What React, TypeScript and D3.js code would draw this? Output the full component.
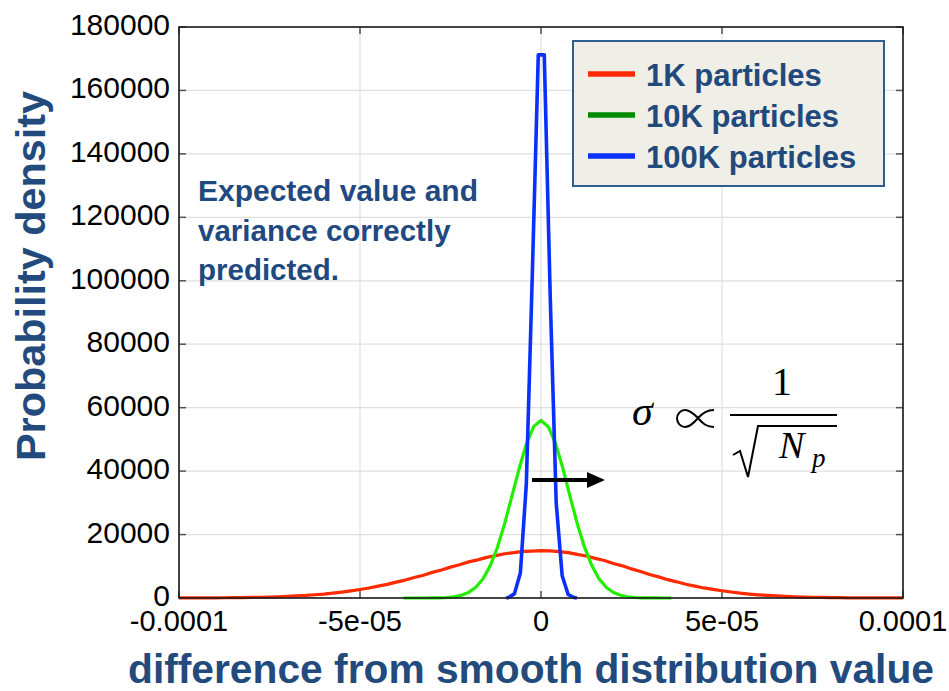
import React from "react";
import * as d3 from "d3";

// Density estimates of the difference from the smooth distribution value.
// x in units of 1e-6, y = probability density.
const red1K: [number, number][] = [
  [-100, 20], [-97.5, 25], [-95, 35], [-92.5, 45], [-90, 60], [-87.5, 80], [-85, 110],
  [-82.5, 140], [-80, 190], [-77.5, 240], [-75, 320], [-72.5, 400], [-70, 520], [-67.5, 660],
  [-65, 810], [-62.5, 1030], [-60, 1250], [-57.5, 1560], [-55, 1850], [-52.5, 2270],
  [-50, 2690], [-47.5, 3150], [-45, 3740], [-42.5, 4300], [-40, 4990], [-37.5, 5650],
  [-35, 6460], [-32.5, 7190], [-30, 8080], [-27.5, 8830], [-25, 9740], [-22.5, 10480],
  [-20, 11380], [-17.5, 12020], [-15, 12810], [-12.5, 13350], [-10, 13950], [-7.5, 14290],
  [-5, 14700], [-2.5, 14800], [0, 14920], [2.5, 14860], [5, 14640], [7.5, 14300],
  [10, 13760], [12.5, 13250], [15, 12480], [17.5, 11820], [20, 10900], [22.5, 10140],
  [25, 9170], [27.5, 8380], [30, 7420], [32.5, 6660], [35, 5780], [37.5, 5100], [40, 4330],
  [42.5, 3760], [45, 3170], [47.5, 2700], [50, 2290], [52.5, 1880], [55, 1530], [57.5, 1250],
  [60, 1010], [62.5, 810], [65, 640], [67.5, 500], [70, 390], [72.5, 300], [75, 230],
  [77.5, 175], [80, 130], [82.5, 95], [85, 70], [87.5, 52], [90, 38], [92.5, 28], [95, 20],
  [97.5, 15], [100, 10],
];

const green10K: [number, number][] = [
  [-38, 0], [-36, 2], [-34, 4], [-32, 8], [-30, 22], [-28, 60], [-26, 155], [-24, 370],
  [-22, 840], [-20, 1760], [-18, 3380], [-16, 6080], [-14, 10250], [-12, 16050],
  [-10, 23600], [-8, 32300], [-6, 40900], [-4, 48700], [-2, 54100], [0, 56000],
  [2, 54000], [4, 48800], [6, 41100], [8, 32100], [10, 23500], [12, 16100], [14, 10300],
  [16, 6100], [18, 3400], [20, 1740], [22, 860], [24, 380], [26, 160], [28, 65], [30, 25],
  [32, 9], [34, 3], [36, 0],
];

const blue100K: [number, number][] = [
  [-9.6, 0], [-9.0, 180], [-7.35, 1300], [-5.7, 7900], [-4.05, 36000], [-2.4, 102000],
  [-0.75, 171200], [0.9, 171200], [2.55, 95000], [4.2, 30000], [5.85, 7000], [7.5, 1100],
  [9.15, 150], [9.9, 0],
];

const seriesNames = ["1K particles", "10K particles", "100K particles"];
const seriesColors = ["#ff2a00", "#22ee00", "#0a30ff"];
const seriesWidths = [3.2, 3.2, 3.6];
const legendColors = ["#ff2a00", "#008a00", "#0a30ff"];

const xTicks = [-1e-4, -5e-5, 0, 5e-5, 1e-4];
const xTickLabels = ["-0.0001", "-5e-05", "0", "5e-05", "0.0001"];
const yTicks = [0, 20000, 40000, 60000, 80000, 100000, 120000, 140000, 160000, 180000];

const W = 949;
const H = 691;
const plot = { left: 179, right: 903, top: 27, bottom: 598 };
const titleColor = "#234a7d";

export default function App() {
  const x = d3.scaleLinear().domain([-1e-4, 1e-4]).range([plot.left, plot.right]);
  const y = d3.scaleLinear().domain([0, 180000]).range([plot.bottom, plot.top]);
  const line = d3
    .line<[number, number]>()
    .x((d) => x(d[0] * 1e-6))
    .y((d) => y(d[1]));

  const series = [red1K, green10K, blue100K];
  const tickLen = 7;

  return (
    <svg
      width={W}
      height={H}
      style={{ position: "absolute", left: 0, top: 0, background: "#fff" }}
      fontFamily="'Liberation Sans', Arial, sans-serif"
    >
      <rect x={0} y={0} width={W} height={H} fill="#fff" />
      {/* grid */}
      <g stroke="#e0e0e0" strokeWidth={1.2}>
        {xTicks.map((t) => (
          <line key={"gx" + t} x1={x(t)} x2={x(t)} y1={plot.top} y2={plot.bottom} />
        ))}
        {yTicks.map((t) => (
          <line key={"gy" + t} x1={plot.left} x2={plot.right} y1={y(t)} y2={y(t)} />
        ))}
      </g>
      {/* tick marks on all four sides, pointing inward */}
      <g stroke="#555" strokeWidth={1.5}>
        {xTicks.map((t) => (
          <g key={"tx" + t}>
            <line x1={x(t)} x2={x(t)} y1={plot.bottom} y2={plot.bottom - tickLen} />
            <line x1={x(t)} x2={x(t)} y1={plot.top} y2={plot.top + tickLen} />
          </g>
        ))}
        {yTicks.map((t) => (
          <g key={"ty" + t}>
            <line x1={plot.left} x2={plot.left + tickLen} y1={y(t)} y2={y(t)} />
            <line x1={plot.right} x2={plot.right - tickLen} y1={y(t)} y2={y(t)} />
          </g>
        ))}
      </g>
      {/* curves */}
      <g fill="none" strokeLinejoin="round">
        {series.map((s, i) => (
          <path
            key={seriesNames[i]}
            d={line(s) || ""}
            stroke={seriesColors[i]}
            strokeWidth={seriesWidths[i]}
          />
        ))}
      </g>
      {/* frame */}
      <rect
        x={plot.left}
        y={plot.top}
        width={plot.right - plot.left}
        height={plot.bottom - plot.top}
        fill="none"
        stroke="#1a1a1a"
        strokeWidth={1.6}
      />
      {/* y tick labels */}
      <g fontSize={30} fill="#000" textAnchor="end">
        {yTicks.map((t) => (
          <text key={"ly" + t} x={170} y={y(t) + 8}>
            {t}
          </text>
        ))}
      </g>
      {/* x tick labels */}
      <g fontSize={29} fill="#000" textAnchor="middle">
        {xTicks.map((t, i) => (
          <text key={"lx" + t} x={x(t)} y={631}>
            {xTickLabels[i]}
          </text>
        ))}
      </g>
      {/* axis titles */}
      <text
        x={(128 + 934) / 2}
        y={683}
        textAnchor="middle"
        fontSize={40}
        fontWeight="bold"
        fill={titleColor}
        textLength={806}
        lengthAdjust="spacingAndGlyphs"
      >
        difference from smooth distribution value
      </text>
      <text
        transform="translate(45,276) rotate(-90)"
        textAnchor="middle"
        fontSize={41}
        fontWeight="bold"
        fill={titleColor}
        textLength={370}
        lengthAdjust="spacingAndGlyphs"
      >
        Probability density
      </text>
      {/* annotation */}
      <g fontSize={29.5} fontWeight="bold" fill="#21497f">
        <text x={198} y={201} textLength={280} lengthAdjust="spacingAndGlyphs">
          Expected value and
        </text>
        <text x={198} y={241}>variance correctly</text>
        <text x={198} y={280}>predicted.</text>
      </g>
      {/* legend */}
      <rect x={573} y={41} width={311} height={145} fill="#efeee7" stroke="#2f5f8f" strokeWidth={2} />
      {seriesNames.map((name, i) => {
        const ly = 74 + i * 41;
        return (
          <g key={"lg" + name}>
            <line x1={588} x2={635} y1={ly} y2={ly} stroke={legendColors[i]} strokeWidth={5.5} />
            <text x={646} y={ly + 12} fontSize={31} fontWeight="bold" fill="#22497c">
              {name}
            </text>
          </g>
        );
      })}
      {/* arrow */}
      <line x1={532} x2={590} y1={480} y2={480} stroke="#000" strokeWidth={4} />
      <polygon points="587,472 605,480 587,488" fill="#000" />
      {/* sigma proportional to 1/sqrt(Np) */}
      <g fontFamily="'Liberation Serif', 'DejaVu Serif', serif" fill="#000">
        <text x={632} y={425} fontSize={42} fontStyle="italic">σ</text>
        {/* proportional-to sign: open loop on the left, crossing into two arms on the right */}
        <path
          d="M710,410 C703,410 699,413 694,418 C689,424 685,427 681,427 C676.5,427 673,423 673,418.5 C673,414 676.5,410 681,410 C685,410 689,413 694,418 C699,424 703,427 710,427"
          transform="translate(4,0)"
          fill="none"
          stroke="#000"
          strokeWidth={2}
        />
        <text x={782} y={395} fontSize={40} textAnchor="middle">1</text>
        <line x1={730} x2={837} y1={415} y2={415} stroke="#000" strokeWidth={1.8} />
        <path
          d="M733,455 L740,451 L748,477 L758,426 L837,426"
          fill="none"
          stroke="#000"
          strokeWidth={2}
          strokeLinejoin="miter"
        />
        <text x={779} y={458} fontSize={38} fontStyle="italic">N</text>
        <text x={812} y={467} fontSize={27} fontStyle="italic">p</text>
      </g>
    </svg>
  );
}
